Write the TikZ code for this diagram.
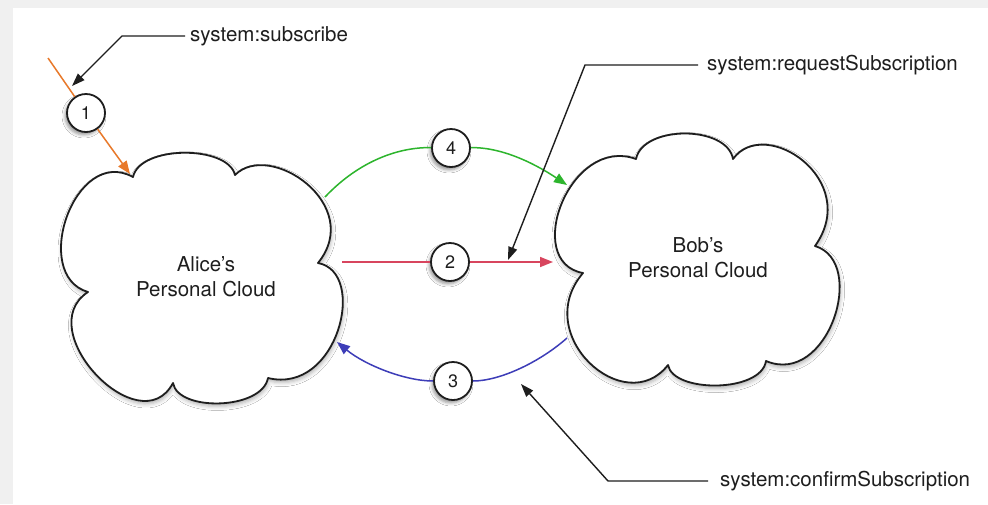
\documentclass[tikz,border=0pt]{standalone}
\usepackage{fontspec}
\setmainfont{TeX Gyre Heros}
\usetikzlibrary{arrows.meta,shadows.blur}

\definecolor{inkline}{HTML}{1E1E1E}
\definecolor{flowOrange}{HTML}{E8792A}
\definecolor{flowGreen}{HTML}{2DB52D}
\definecolor{flowRed}{HTML}{D8455E}
\definecolor{flowBlue}{HTML}{3D3DB8}
\definecolor{pagegrey}{HTML}{F0F0F0}

\begin{document}
\begin{tikzpicture}[x=1pt,y=-1pt,
  cloudshape/.style={draw=inkline, line width=1.8pt, fill=white, line join=round,
    blur shadow={shadow xshift=1pt, shadow yshift=-3pt, shadow blur radius=4pt, shadow opacity=30}},
  cloudtext/.style={align=center, text=inkline, font=\fontsize{20.5}{25}\selectfont},
  stepcirc/.style={circle, draw=inkline, line width=1.8pt, fill=white, minimum size=38pt,
    inner sep=0pt, text=inkline, font=\fontsize{18}{18}\selectfont,
    blur shadow={shadow xshift=-2pt, shadow yshift=-3pt, shadow blur radius=3pt, shadow opacity=40}},
  labeltext/.style={anchor=west, inner sep=0pt, text=inkline, font=\fontsize{20.5}{24}\selectfont},
  flow/.style={line width=1.5pt},
  tipend/.style={-{Triangle[length=13pt,width=10pt]}},
  callout/.style={draw=inkline, line width=1.4pt, line join=miter, -{Triangle[length=13pt,width=9pt]}}
]
\useasboundingbox (0,0) rectangle (988,504);
\fill[pagegrey] (0,0) rectangle (988,504);
\fill[white] (13,8) rectangle (992,508);

% Alice's cloud
\path[cloudshape] (133,177) .. controls (140,145) and (228,145) .. (235,175)
  .. controls (270,140) and (365,205) .. (318,263)
  .. controls (368,272) and (338,395) .. (268,378)
  .. controls (262,410) and (178,412) .. (173,383)
  .. controls (140,445) and (30,330) .. (88,292)
  .. controls (30,275) and (75,145) .. cycle;
\node[cloudtext] (alice) at (206,277) {Alice's\\Personal Cloud};

% Bob's cloud
\path[cloudshape] (636,159) .. controls (643,125) and (727,125) .. (733,159)
  .. controls (765,115) and (862,180) .. (815,246)
  .. controls (868,262) and (828,387) .. (766,361)
  .. controls (761,393) and (673,393) .. (668,365)
  .. controls (625,420) and (530,335) .. (583,273)
  .. controls (522,262) and (570,135) .. cycle;
\node[cloudtext] (bob) at (698,258) {Bob's\\Personal Cloud};

% connector ends on the cloud outlines
\coordinate (oStart) at (48,58);
\coordinate (aliceO) at (130,174);
\coordinate (aliceG) at (325,197);
\coordinate (aliceR) at (342,262);
\coordinate (aliceB) at (337,342);
\coordinate (bobG) at (567,185);
\coordinate (bobR) at (553,262);
\coordinate (bobB) at (567,338);

% numbered steps
\node[stepcirc] (c1) at (86,113) {1};
\node[stepcirc] (c4) at (451,148) {4};
\node[stepcirc] (c2) at (450,262) {2};
\node[stepcirc] (c3) at (453,381) {3};

% step 1: subscribe
\draw[flow, flowOrange] (oStart) -- (c1);
\draw[flow, flowOrange, tipend] (c1) -- (aliceO);

% step 4
\draw[flow, flowGreen] (aliceG) .. controls (360,160) and (400,147) .. (c4);
\draw[flow, flowGreen, tipend] (c4) .. controls (505,147) and (540,167) .. (bobG);

% step 2
\draw[flow, flowRed] (aliceR) -- (c2);
\draw[flow, flowRed, tipend] (c2) -- (bobR);

% step 3
\draw[flow, flowBlue] (bobB) .. controls (540,362) and (500,381) .. (c3);
\draw[flow, flowBlue, tipend] (c3) .. controls (405,381) and (365,365) .. (aliceB);

% message labels with their pointers
\node[labeltext] (lab1) at (190,36) {system:subscribe};
\coordinate (k1) at (122,36);
\coordinate (t1) at (72,86);
\draw[callout] ([xshift=-5pt]lab1.west) -- (k1) -- (t1);

\node[labeltext] (lab2) at (707,65) {system:requestSubscription};
\coordinate (k2) at (585,65);
\coordinate (t2) at (508,260);
\draw[callout] ([xshift=-9pt]lab2.west) -- (k2) -- (t2);

\node[labeltext] (lab3) at (720,481) {system:confirmSubscription};
\coordinate (k3) at (608,481);
\coordinate (t3) at (521,384);
\draw[callout] ([xshift=-12pt]lab3.west) -- (k3) -- (t3);
\end{tikzpicture}
\end{document}
